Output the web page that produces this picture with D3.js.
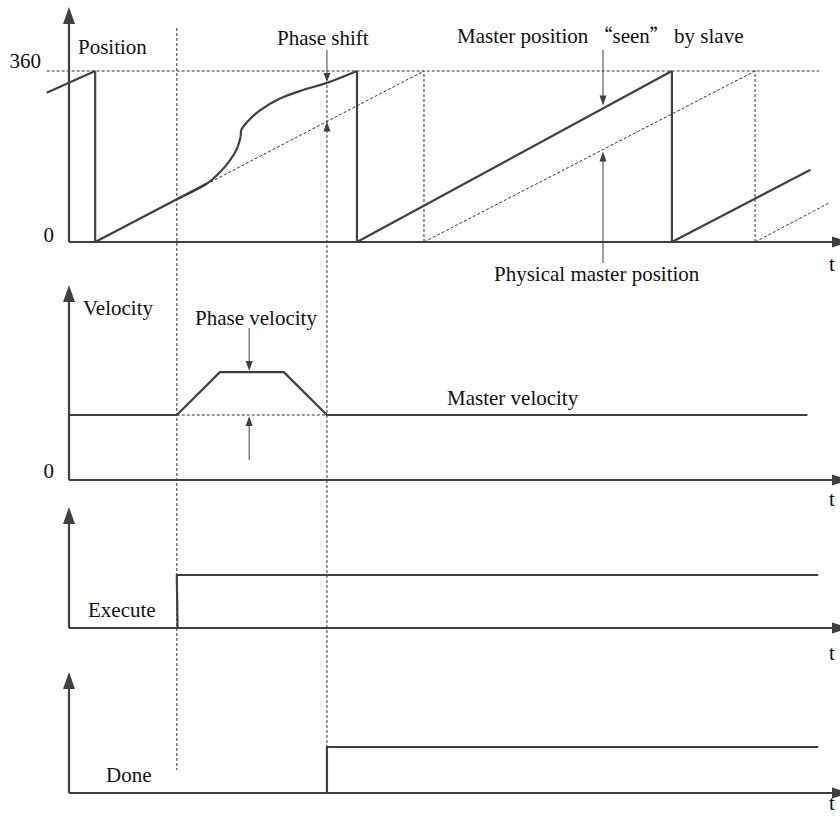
<!DOCTYPE html>
<html>
<head>
<meta charset="utf-8">
<script src="https://cdn.jsdelivr.net/npm/d3@7"></script>
<style>
  html, body { margin: 0; padding: 0; background: #fff; }
  svg { display: block; }
  text { font-family: "Liberation Serif", "Times New Roman", serif; fill: #111; }
</style>
</head>
<body>
<svg id="chart" width="840" height="816"></svg>
<script>
// ---------------- DATA ----------------
const timeDomain = [0, 100];
const positionDomain = [0, 360];
const positionTicks = [0, 360];
const velocityTicks = [0];

const phaseStart = 14.0;
const phaseEnd = 33.5;

// slave ("seen") master position, [time, degrees]
const slaveSegment1 = [[-2.9, 314], [3.4, 360]];
const slaveRampBefore = [[3.4, 0], [14.0, 90], [17.9, 123]];
const slavePhaseRise = [[14.0, 90], [17.9, 123], [19.6, 147], [20.9, 172], [21.8, 196], [22.3, 222]];
const slaveStep = [[22.3, 222], [22.35, 236]];
const slavePhaseSettle = [[22.35, 236], [23.1, 252], [24.8, 277], [27.4, 302], [30.4, 320], [33.5, 335], [37.4, 360]];
const slaveSegment3 = [[37.4, 0], [78.3, 360]];
const slaveSegment4 = [[78.3, 0], [96.3, 152]];
const slaveWraps = [3.4, 37.4, 78.3];

// physical master position
const masterSegment1 = [[3.4, 0], [46.1, 360]];
const masterSegment2 = [[46.1, 0], [89.1, 360]];
const masterSegment3 = [[89.1, 0], [98.8, 83]];
const masterWraps = [46.1, 89.1];
const refLineSpan = [-2.9, 97.4];

// velocity (master velocity = 1)
const velocity = [[0, 1], [14.0, 1], [19.6, 1.66], [27.9, 1.66], [33.5, 1], [95.9, 1]];
const velocityDomain = [0, 3];

// digital signals
const executeSignal = [[0, 0], [14.1, 0], [14.0, 1], [97.3, 1]];
const doneSignal = [[0, 0], [33.5, 0], [33.5, 1], [97.3, 1]];

const arrowTimeSeen = 69.35;
const arrowTimePhaseVel = 23.4;

// ---------------- LAYOUT ----------------
const svg = d3.select("#chart");
const ink = "#404040";
const axisX0 = 69, axisX1 = 832;
const FS = 21;
const x = d3.scaleLinear().domain(timeDomain).range([axisX0, axisX1 + 7]);

const yPos = d3.scaleLinear().domain(positionDomain).range([242, 71]);
const yVel = d3.scaleLinear().domain(velocityDomain).range([480, 285]);
const yExe = d3.scaleLinear().domain([0, 1]).range([628, 575]);
const yDone = d3.scaleLinear().domain([0, 1]).range([793, 747]);

const panels = [
  { base: 242, tip: 7, tLabel: 271 },
  { base: 480, tip: 285, tLabel: 506 },
  { base: 628, tip: 507, tLabel: 660 },
  { base: 793, tip: 672, tLabel: 810 }
];

function dashedLine(x1, y1, x2, y2) {
  svg.append("line").attr("x1", x1).attr("y1", y1).attr("x2", x2).attr("y2", y2)
    .attr("stroke", "#333").attr("stroke-width", 1).attr("stroke-dasharray", "3,2");
}
function solidLine(x1, y1, x2, y2, w) {
  svg.append("line").attr("x1", x1).attr("y1", y1).attr("x2", x2).attr("y2", y2)
    .attr("stroke", ink).attr("stroke-width", w || 2);
}
function arrowHead(tx, ty, dir, len, half) {
  let p;
  if (dir === "up") p = [[tx, ty], [tx - half, ty + len], [tx + half, ty + len]];
  else if (dir === "down") p = [[tx, ty], [tx - half, ty - len], [tx + half, ty - len]];
  else p = [[tx, ty], [tx - len, ty - half], [tx - len, ty + half]];
  svg.append("path").attr("d", "M" + p.join("L") + "Z").attr("fill", ink);
}
function label(txt, px, py, size, anchor) {
  return svg.append("text").attr("x", px).attr("y", py)
    .attr("font-size", size || FS).attr("text-anchor", anchor || "start").text(txt);
}
function drawPath(gen, data, w, dash) {
  const p = svg.append("path").attr("d", gen(data)).attr("fill", "none")
    .attr("stroke", dash ? "#333" : ink).attr("stroke-width", w)
    .attr("stroke-linejoin", "round");
  if (dash) p.attr("stroke-dasharray", "3,2");
  return p;
}

// ---------- dotted references ----------
dashedLine(x(refLineSpan[0]), yPos(360), x(refLineSpan[1]), yPos(360));
masterWraps.forEach(t => dashedLine(x(t), yPos(0), x(t), yPos(360)));
dashedLine(x(phaseStart), 28, x(phaseStart), 770);
dashedLine(x(phaseEnd), 85, x(phaseEnd), yDone(1));

// ---------- axes ----------
panels.forEach(p => {
  solidLine(axisX0, p.base, axisX0, p.tip + 14, 2.2);
  arrowHead(axisX0, p.tip, "up", 17, 6);
  solidLine(axisX0, p.base, axisX1, p.base, 2.2);
  arrowHead(axisX1 + 17, p.base, "right", 17, 5.5);
  label("t", 829, p.tLabel, FS);
});

// ---------- position panel ----------
const linePos = d3.line().x(d => x(d[0])).y(d => yPos(d[1]));
const curvePos = d3.line().x(d => x(d[0])).y(d => yPos(d[1])).curve(d3.curveCatmullRom.alpha(0.5));

[masterSegment1, masterSegment2, masterSegment3].forEach(seg => drawPath(linePos, seg, 1, true));

drawPath(linePos, slaveSegment1, 2.2);
drawPath(linePos, slaveRampBefore, 2.2);
drawPath(curvePos, slavePhaseRise, 2.2);
drawPath(linePos, slaveStep, 2.2);
drawPath(curvePos, slavePhaseSettle, 2.2);
drawPath(linePos, slaveSegment3, 2.2);
drawPath(linePos, slaveSegment4, 2.2);
slaveWraps.forEach(t => solidLine(x(t), yPos(0), x(t), yPos(360), 2.2));

positionTicks.forEach(v => {
  if (v === 360) label("360", 41, yPos(v) - 3, FS, "end");
  else label(String(v), 54, yPos(v), FS, "end");
});
label("Position", 78, 54, FS);

// phase shift arrows
const slaveAtEnd = slavePhaseSettle[slavePhaseSettle.length - 2][1];
const masterAtEnd = (phaseEnd - masterSegment1[0][0]) / (masterSegment1[1][0] - masterSegment1[0][0]) * 360;
solidLine(x(phaseEnd), 50, x(phaseEnd), yPos(slaveAtEnd) - 8, 1);
arrowHead(x(phaseEnd), yPos(slaveAtEnd) - 1, "down", 9, 3.5);
arrowHead(x(phaseEnd), yPos(masterAtEnd), "up", 10, 3.5);
label("Phase shift", 277, 45, FS);

// master seen / physical arrows
const seenVal = (arrowTimeSeen - slaveSegment3[0][0]) / (slaveSegment3[1][0] - slaveSegment3[0][0]) * 360;
const physVal = (arrowTimeSeen - masterSegment2[0][0]) / (masterSegment2[1][0] - masterSegment2[0][0]) * 360;
solidLine(x(arrowTimeSeen), 50, x(arrowTimeSeen), yPos(seenVal) - 10, 1);
arrowHead(x(arrowTimeSeen), yPos(seenVal) - 3, "down", 10, 3.5);
solidLine(x(arrowTimeSeen), yPos(physVal) + 8, x(arrowTimeSeen), 263, 1);
arrowHead(x(arrowTimeSeen), yPos(physVal) + 2, "up", 10, 3.5);

const seen = label("", 457, 43, FS);
seen.append("tspan").text("Master position ");
seen.append("tspan").style("font-family", "'Noto Sans CJK SC'").attr("font-size", 19).text("“");
seen.append("tspan").text("seen");
seen.append("tspan").style("font-family", "'Noto Sans CJK SC'").attr("font-size", 19).text("”");
seen.append("tspan").text(" by slave");
label("Physical master position", 494, 281, FS);

// ---------- velocity panel ----------
const lineVel = d3.line().x(d => x(d[0])).y(d => yVel(d[1]));
drawPath(lineVel, velocity, 2.2);
dashedLine(x(phaseStart), yVel(1), x(phaseEnd), yVel(1));
velocityTicks.forEach(v => label(String(v), 54, yVel(v) - 2, FS, "end"));
label("Velocity", 83, 315, FS);
label("Phase velocity", 195, 325, FS);
label("Master velocity", 447, 405, FS);
solidLine(x(arrowTimePhaseVel), 328, x(arrowTimePhaseVel), yVel(1.66) - 8, 1);
arrowHead(x(arrowTimePhaseVel), yVel(1.66) - 1, "down", 10, 3.5);
solidLine(x(arrowTimePhaseVel), yVel(1) + 8, x(arrowTimePhaseVel), 460, 1);
arrowHead(x(arrowTimePhaseVel), yVel(1) + 1, "up", 10, 3.5);

// ---------- execute panel ----------
const lineExe = d3.line().x(d => x(d[0])).y(d => yExe(d[1]));
drawPath(lineExe, executeSignal, 2.2);
label("Execute", 88, 617, FS);

// ---------- done panel ----------
const lineDone = d3.line().x(d => x(d[0])).y(d => yDone(d[1]));
drawPath(lineDone, doneSignal, 2.2);
label("Done", 106, 782, FS);
</script>
</body>
</html>
